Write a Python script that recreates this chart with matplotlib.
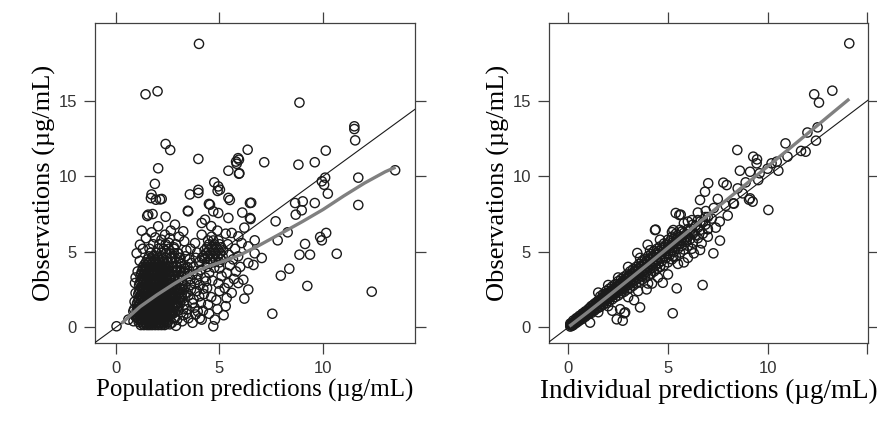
import numpy as np
import matplotlib
matplotlib.use("Agg")
import matplotlib.pyplot as plt

# ---- left panel: observations vs population predictions ----
# sparse points (pred, obs)
pop_sparse = [
    (4.01, 18.77), (1.43, 15.43), (2.01, 15.63), (2.40, 12.14), (2.62, 11.74), (3.98, 11.15),
    (6.36, 11.76), (5.94, 11.10), (5.83, 10.83), (5.43, 10.37), (5.94, 10.17), (2.04, 10.53),
    (1.88, 9.50), (4.75, 9.60), (8.86, 14.88), (11.51, 13.31), (11.51, 13.13), (11.55, 12.38),
    (10.13, 11.70), (7.16, 10.93), (8.81, 10.77), (9.60, 10.93), (13.48, 10.40), (10.10, 9.91),
    (11.70, 9.91), (9.94, 9.67), (10.05, 9.44), (10.23, 8.85), (8.65, 8.23), (9.02, 8.34),
    (9.60, 8.23), (11.70, 8.10), (8.68, 7.46), (8.97, 7.75), (7.71, 7.02), (8.29, 6.29),
    (7.81, 5.76), (10.15, 6.25), (9.86, 5.98), (9.94, 5.76), (9.13, 5.52), (8.86, 4.81),
    (9.37, 4.81), (10.66, 4.87), (7.04, 4.59), (8.37, 3.88), (7.96, 3.42), (9.24, 2.74),
    (12.35, 2.36), (7.55, 0.90), (6.70, 5.76), (6.70, 4.90), (6.53, 8.25), (6.50, 7.17),
    (5.80, 10.97), (5.90, 11.20), (5.96, 10.20), (1.72, 8.80), (1.93, 8.45), (2.13, 8.47),
    (3.57, 8.80), (3.98, 8.90), (3.98, 9.10), (4.91, 9.03), (5.50, 8.43), (3.47, 7.72),
    (4.49, 8.17), (1.51, 7.37), (1.77, 7.50), (2.40, 7.32), (6.64, 4.13), (1.69, 8.56),
    (2.21, 8.50), (4.54, 8.12), (5.02, 9.11), (4.94, 9.33), (5.43, 8.57), (1.56, 7.46),
    (3.49, 7.68), (4.70, 7.68), (4.94, 7.57), (4.14, 6.91), (4.30, 7.13), (5.43, 7.24),
    (6.47, 7.24), (6.47, 8.23), (6.20, 6.60), (6.10, 7.60),
]

# moderately filled region between and around the two clusters
pop_mid = [
    (3.20, 0.40), (3.40, 0.90), (3.30, 1.50), (3.50, 2.10), (3.35, 2.70), (3.60, 3.20), (3.30, 3.90),
    (3.55, 4.50), (3.40, 5.10), (3.30, 5.70), (3.70, 0.30), (3.85, 0.85), (3.80, 1.30), (3.75, 1.85),
    (3.90, 2.40), (3.80, 2.90), (3.95, 3.50), (3.75, 4.00), (3.85, 4.60), (3.82, 5.58), (4.05, 0.60),
    (4.14, 0.51), (4.20, 1.10), (4.10, 1.60), (4.25, 2.20), (4.05, 2.80), (4.30, 3.30), (4.10, 3.80),
    (4.00, 4.30), (4.14, 6.13), (4.50, 0.90), (4.45, 1.50), (4.60, 2.00), (4.40, 2.60), (4.65, 3.10),
    (4.50, 3.60), (4.75, 3.95), (4.70, 0.07), (4.78, 0.51), (4.90, 1.20), (4.85, 1.80), (5.00, 2.40),
    (4.95, 2.90), (5.10, 3.40), (5.00, 3.90), (4.90, 6.40), (5.20, 0.80), (5.35, 1.94), (5.30, 1.40),
    (5.25, 2.60), (5.43, 2.93), (5.35, 3.60), (5.50, 4.10), (5.45, 4.80), (5.40, 5.50), (5.30, 6.20),
    (5.59, 2.28), (5.70, 3.20), (5.80, 3.70), (5.65, 4.50), (5.75, 5.20), (5.59, 6.25), (5.91, 6.02),
    (5.91, 2.93), (6.15, 3.15), (6.00, 4.00), (5.90, 4.70), (6.07, 5.58), (6.39, 5.36), (6.39, 4.26),
    (6.39, 2.50), (6.20, 1.90), (3.05, 6.00), (2.85, 6.80), (3.25, 6.36), (2.37, 6.13), (1.72, 6.29),
    (2.04, 6.69), (1.16, 5.47), (2.60, 5.90), (1.45, 5.90), (2.90, 5.50), (0.03, 0.07), (0.60, 0.51),
    (0.84, 1.06), (0.92, 2.93), (0.95, 2.27), (0.85, 0.40), (2.85, 0.62), (2.60, 0.20), (3.00, 1.10),
    (2.90, 0.10), (3.10, 4.60), (3.15, 3.40), (3.60, 5.20), (4.60, 6.70), (3.45, 1.20), (3.62, 2.50),
    (3.48, 3.55), (3.65, 4.25), (3.95, 1.05), (4.02, 2.05), (4.22, 2.55), (4.35, 3.05), (3.92, 4.95),
    (2.75, 0.90), (2.90, 1.60), (3.05, 2.30), (3.20, 2.95), (3.30, 3.60), (3.15, 4.20), (3.00, 4.90),
    (2.80, 5.30), (3.45, 4.00), (3.60, 2.80), (3.70, 1.60), (3.50, 0.60), (2.95, 0.50), (3.10, 1.90),
    (3.25, 1.20), (2.70, 4.60), (2.55, 5.60), (2.20, 5.80), (1.90, 5.95), (1.30, 5.20), (1.15, 4.40),
    (1.05, 3.70), (0.95, 3.30), (0.90, 1.70), (0.88, 1.20), (0.95, 0.70), (3.40, 2.30), (3.55, 3.75),
    (3.90, 3.15), (4.15, 4.60), (4.40, 4.00), (2.95, 3.75), (3.10, 2.60), (2.85, 2.05), (3.00, 1.40),
    (3.35, 4.70), (3.70, 3.50), (3.25, 0.80), (2.70, 0.30), (1.00, 4.90), (1.25, 6.40), (2.65, 6.40),
]

# dense cluster at low predictions: obs level -> pred values
pop_dense_rows = {
    0.15: [1.20, 1.35, 1.50, 1.62, 1.75, 1.90, 2.05, 2.20, 2.35],
    0.25: [1.27, 1.42, 1.56, 1.68, 1.82, 1.97, 2.12, 2.28, 2.44],
    0.35: [1.10, 1.28, 1.42, 1.58, 1.70, 1.85, 2.00, 2.12, 2.30, 2.50],
    0.50: [1.12, 1.30, 1.45, 1.60, 1.73, 1.88, 2.03, 2.18, 2.34, 2.52],
    0.60: [1.05, 1.20, 1.38, 1.52, 1.66, 1.80, 1.95, 2.10, 2.25, 2.42, 2.60],
    0.72: [1.08, 1.25, 1.42, 1.56, 1.70, 1.85, 2.00, 2.15, 2.30, 2.48],
    0.85: [1.00, 1.15, 1.30, 1.45, 1.60, 1.72, 1.88, 2.02, 2.18, 2.35, 2.55],
    0.98: [1.05, 1.22, 1.37, 1.52, 1.66, 1.80, 1.95, 2.10, 2.26, 2.42, 2.62],
    1.10: [1.00, 1.12, 1.27, 1.40, 1.55, 1.70, 1.84, 1.98, 2.15, 2.30, 2.48, 2.70],
    1.22: [1.07, 1.20, 1.34, 1.48, 1.62, 1.77, 1.91, 2.06, 2.22, 2.38, 2.58],
    1.35: [1.05, 1.20, 1.35, 1.50, 1.64, 1.78, 1.92, 2.08, 2.22, 2.40, 2.62, 2.85],
    1.48: [1.10, 1.26, 1.42, 1.57, 1.71, 1.85, 2.00, 2.14, 2.30, 2.50, 2.72],
    1.60: [1.02, 1.15, 1.30, 1.46, 1.60, 1.75, 1.90, 2.05, 2.20, 2.38, 2.58, 2.80],
    1.75: [1.08, 1.22, 1.37, 1.52, 1.68, 1.82, 1.97, 2.12, 2.28, 2.45, 2.65],
    1.90: [1.10, 1.25, 1.40, 1.55, 1.70, 1.86, 2.00, 2.16, 2.32, 2.50, 2.70, 2.92],
    2.05: [1.16, 1.30, 1.46, 1.62, 1.77, 1.92, 2.08, 2.24, 2.40, 2.58, 2.78],
    2.20: [1.08, 1.22, 1.38, 1.52, 1.68, 1.82, 1.98, 2.14, 2.30, 2.48, 2.66, 2.86],
    2.35: [1.12, 1.28, 1.44, 1.58, 1.72, 1.88, 2.04, 2.20, 2.36, 2.54, 2.72],
    2.50: [1.15, 1.30, 1.45, 1.60, 1.76, 1.92, 2.08, 2.24, 2.42, 2.60, 2.80],
    2.65: [1.20, 1.36, 1.52, 1.68, 1.84, 2.00, 2.16, 2.32, 2.50, 2.70],
    2.80: [1.12, 1.28, 1.42, 1.58, 1.74, 1.90, 2.05, 2.22, 2.40, 2.58, 2.78],
    2.95: [1.16, 1.32, 1.48, 1.64, 1.80, 1.96, 2.12, 2.28, 2.46, 2.66],
    3.10: [1.20, 1.35, 1.50, 1.66, 1.82, 1.98, 2.14, 2.30, 2.48, 2.68],
    3.25: [1.25, 1.42, 1.58, 1.74, 1.90, 2.06, 2.22, 2.40, 2.58],
    3.40: [1.18, 1.32, 1.48, 1.62, 1.78, 1.95, 2.10, 2.28, 2.45, 2.65],
    3.55: [1.22, 1.38, 1.54, 1.70, 1.86, 2.02, 2.18, 2.36, 2.54],
    3.70: [1.25, 1.40, 1.56, 1.72, 1.88, 2.04, 2.20, 2.38, 2.56],
    3.85: [1.32, 1.48, 1.64, 1.80, 1.96, 2.12, 2.30, 2.48],
    4.00: [1.30, 1.45, 1.60, 1.76, 1.92, 2.08, 2.25, 2.42],
    4.15: [1.38, 1.54, 1.70, 1.86, 2.02, 2.20, 2.38],
    4.30: [1.45, 1.62, 1.78, 1.95, 2.12, 2.30],
    4.50: [1.52, 1.70, 1.88, 2.06, 2.25],
    4.70: [1.60, 1.80, 2.00, 2.20],
    4.95: [1.70, 1.95, 2.20],
    5.20: [1.62, 2.05],
}
# right-hand flank of the same cluster (where it reaches pred ~3.3)
pop_dense_flank = {
    1.00: [2.72, 2.85], 1.30: [2.78, 2.95], 1.60: [2.95, 3.10], 1.90: [3.05, 3.22],
    2.20: [3.00, 3.18, 3.32], 2.50: [2.95, 3.12, 3.28], 2.80: [2.92, 3.08, 3.25],
    3.10: [2.85, 3.02, 3.20], 3.40: [2.82, 3.00, 3.18], 3.70: [2.72, 2.90, 3.10, 3.28],
    4.00: [2.60, 2.78, 2.95, 3.15], 4.30: [2.50, 2.70, 2.90, 3.10], 4.60: [2.45, 2.65, 2.85, 3.05],
    4.90: [2.40, 2.60, 2.80, 3.00], 5.20: [2.30, 2.55, 2.80], 5.50: [1.80, 2.10, 2.40],
}
# second cluster around pred ~4.7
pop_dense2_rows = {
    4.30: [4.40, 4.70, 5.00],
    4.50: [4.30, 4.55, 4.80, 5.05],
    4.70: [4.22, 4.45, 4.68, 4.90, 5.15],
    4.90: [4.35, 4.58, 4.80, 5.02],
    5.10: [4.28, 4.50, 4.72, 4.95, 5.18],
    5.30: [4.40, 4.62, 4.85, 5.08],
    5.50: [4.50, 4.75, 5.00],
    5.75: [4.45, 4.70, 4.95],
    6.00: [4.62],
}

# loess smooth
pop_loess_x = [0.27, 1.16, 1.97, 2.77, 3.57, 4.38, 5.18, 6.00, 6.80, 8.08, 9.00, 10.0, 11.0, 12.0, 13.0, 13.5]
pop_loess_y = [0.26, 1.36, 2.14, 2.85, 3.50, 4.00, 4.37, 4.80, 5.34, 6.30, 7.00, 7.80, 8.70, 9.55, 10.3, 10.6]

# ---- right panel: observations vs individual predictions ----
ind_sparse = [
    (3.46, 4.92), (3.98, 5.47), (4.38, 6.47), (5.39, 7.57), (5.64, 7.46), (5.57, 7.44), (5.27, 6.44),
    (4.35, 6.44), (6.61, 8.43), (6.86, 8.98), (7.02, 9.54), (7.78, 9.58), (7.95, 9.42), (8.48, 11.74),
    (8.61, 10.37), (9.28, 11.30), (9.47, 11.12), (9.45, 10.86), (9.12, 10.30), (9.53, 9.75), (10.20, 10.86),
    (10.46, 10.97), (10.54, 10.37), (10.90, 12.18), (11.68, 11.68), (11.91, 11.63), (12.34, 15.43),
    (13.25, 15.67), (12.58, 14.88), (12.51, 13.24), (12.43, 12.36), (14.10, 18.80), (10.04, 7.77),
    (8.75, 8.87), (9.12, 8.54), (9.25, 8.32), (8.28, 8.21), (7.90, 8.05), (8.31, 8.19), (9.07, 8.45),
    (7.61, 5.74), (7.28, 4.90), (6.69, 5.56), (6.61, 5.12), (6.74, 2.80), (5.44, 2.58), (5.24, 0.93),
    (4.74, 2.95), (3.93, 2.51), (3.60, 1.32), (2.81, 0.93), (2.43, 0.53), (2.73, 0.44), (1.09, 0.31),
    (2.85, 0.99), (2.60, 1.20), (3.30, 1.80), (4.20, 2.90), (5.00, 3.50), (5.80, 4.30), (6.30, 4.90),
    (7.00, 6.00), (7.40, 6.60), (7.60, 7.00), (8.00, 7.40), (8.50, 9.20), (8.90, 9.60), (9.60, 10.20),
    (10.00, 10.50), (11.00, 11.30), (12.00, 12.90), (7.30, 7.90), (7.50, 8.50), (7.20, 7.20), (6.90, 7.70),
    (6.50, 7.60), (6.20, 7.10), (6.00, 7.00), (5.80, 6.90), (5.20, 6.30), (4.60, 5.80), (4.10, 5.10),
    (3.60, 4.60), (3.00, 4.00), (2.50, 3.30), (2.00, 2.80), (1.50, 2.30), (1.50, 1.00), (2.00, 1.40),
    (2.20, 1.10), (3.00, 2.00), (3.50, 2.40), (4.00, 2.90), (4.50, 3.30), (5.50, 4.20), (6.00, 4.60),
    (6.20, 5.20), (7.00, 6.50), (6.27, 6.22), (5.94, 5.78), (5.27, 4.68), (4.60, 4.01),
]
# dense band: pred level -> obs values
ind_dense_rows = {
    0.10: [0.05, 0.15, 0.25], 0.18: [0.10, 0.20, 0.30], 0.25: [0.15, 0.30, 0.45], 0.33: [0.25, 0.38],
    0.40: [0.30, 0.45, 0.60], 0.48: [0.38, 0.52, 0.62], 0.55: [0.45, 0.60, 0.75], 0.63: [0.55, 0.68],
    0.70: [0.55, 0.75, 0.90], 0.78: [0.68, 0.84, 0.95], 0.85: [0.70, 0.90, 1.05], 0.93: [0.85, 1.00],
    1.00: [0.85, 1.05, 1.20], 1.08: [0.98, 1.12, 1.28], 1.15: [0.95, 1.20, 1.40], 1.23: [1.15, 1.30, 1.45],
    1.30: [1.10, 1.35, 1.55], 1.38: [1.28, 1.45, 1.62], 1.45: [1.25, 1.50, 1.70], 1.53: [1.42, 1.60, 1.78],
    1.60: [1.35, 1.65, 1.85, 2.05], 1.68: [1.55, 1.75, 1.95], 1.75: [1.50, 1.80, 2.00, 2.20],
    1.83: [1.72, 1.92, 2.10], 1.90: [1.60, 1.90, 2.15, 2.40], 1.98: [1.85, 2.08, 2.28],
    2.05: [1.75, 2.05, 2.30, 2.55], 2.13: [2.00, 2.22, 2.42], 2.20: [1.85, 2.20, 2.45, 2.70],
    2.28: [2.15, 2.38, 2.58], 2.35: [2.00, 2.35, 2.60, 2.85], 2.43: [2.30, 2.52, 2.72],
    2.50: [2.10, 2.50, 2.75, 3.05], 2.58: [2.42, 2.68, 2.90], 2.65: [2.25, 2.60, 2.90, 3.20],
    2.73: [2.55, 2.82, 3.08], 2.80: [2.35, 2.75, 3.05, 3.35], 2.88: [2.70, 2.98, 3.25],
    2.95: [2.50, 2.90, 3.20, 3.50], 3.03: [2.82, 3.12, 3.40], 3.10: [2.60, 3.05, 3.40, 3.70],
    3.18: [2.98, 3.30, 3.58], 3.25: [2.75, 3.20, 3.55, 3.85], 3.33: [3.12, 3.45, 3.72],
    3.40: [2.90, 3.35, 3.70, 4.00], 3.48: [3.25, 3.58, 3.90], 3.55: [3.00, 3.50, 3.85, 4.20],
    3.63: [3.40, 3.75, 4.05], 3.70: [3.15, 3.65, 4.00, 4.35], 3.78: [3.52, 3.90, 4.22],
    3.85: [3.30, 3.80, 4.15, 4.50], 3.93: [3.68, 4.05, 4.40], 4.00: [3.40, 3.95, 4.30, 4.70],
    4.08: [3.82, 4.20, 4.55], 4.15: [3.55, 4.10, 4.50, 4.85], 4.23: [3.95, 4.38, 4.72],
    4.30: [3.70, 4.25, 4.65, 5.05], 4.38: [4.10, 4.52, 4.90], 4.45: [3.85, 4.40, 4.80, 5.20],
    4.53: [4.25, 4.68, 5.05], 4.60: [4.00, 4.55, 4.95, 5.35], 4.70: [4.40, 4.85, 5.25],
    4.80: [4.10, 4.70, 5.15, 5.55], 4.90: [4.60, 5.05, 5.45], 5.00: [4.30, 4.90, 5.35, 5.80],
    5.10: [4.80, 5.25, 5.70], 5.20: [4.50, 5.10, 5.60, 6.00], 5.30: [5.00, 5.50, 5.90],
    5.40: [4.70, 5.35, 5.80, 6.20], 5.50: [5.20, 5.70, 6.10], 5.60: [4.95, 5.55, 6.00, 6.45],
    5.70: [5.40, 5.90, 6.35], 5.80: [5.15, 5.80, 6.25], 5.90: [5.65, 6.15], 6.00: [5.40, 6.00, 6.50],
    6.12: [5.85, 6.40], 6.25: [5.60, 6.30, 6.80], 6.38: [6.10, 6.70], 6.50: [5.90, 6.60, 7.10],
    6.62: [6.45, 7.00], 6.75: [6.20, 6.95], 6.88: [6.80, 7.30], 7.00: [6.50, 7.30],
}
ind_loess_x = [0.05, 1.0, 2.0, 3.0, 4.0, 5.0, 6.0, 7.0, 8.0, 9.0, 10.0, 11.0, 12.0, 13.0, 14.1]
ind_loess_y = [0.07, 1.03, 2.07, 3.12, 4.18, 5.26, 6.34, 7.42, 8.50, 9.57, 10.65, 11.73, 12.82, 13.92, 15.12]


def unpack(sparse, *row_sets, rows_are_y=True):
    xs = [p[0] for p in sparse]
    ys = [p[1] for p in sparse]
    for rows in row_sets:
        for key, vals in rows.items():
            for v in vals:
                if rows_are_y:
                    xs.append(v)
                    ys.append(key)
                else:
                    xs.append(key)
                    ys.append(v)
    return np.array(xs), np.array(ys)


pop_x, pop_y = unpack(pop_sparse + pop_mid, pop_dense_rows, pop_dense_flank, pop_dense2_rows)
ind_x, ind_y = unpack(ind_sparse, ind_dense_rows, rows_are_y=False)

axis_col = "#404040"
serif = ["Liberation Serif", "DejaVu Serif"]
tickfont = ["Liberation Sans Narrow", "Liberation Sans", "DejaVu Sans"]

fig = plt.figure(figsize=(8.78, 4.24), dpi=100)
ax1 = fig.add_axes([0.1082, 0.191, 0.3645, 0.7547])
ax2 = fig.add_axes([0.6253, 0.191, 0.3633, 0.7547])

panels = [
    (ax1, pop_x, pop_y, pop_loess_x, pop_loess_y, (-1.01, 14.44), [0, 5, 10],
     "Population predictions (\u00b5g/mL)", 18),
    (ax2, ind_x, ind_y, ind_loess_x, ind_loess_y, (-0.97, 15.04), [0, 5, 10, 15],
     "Individual predictions (\u00b5g/mL)", 19.5),
]

for ax, x, y, lx, ly, xlim, xt, xlab, xfs in panels:
    ax.scatter(x, y, s=44, facecolors="none", edgecolors="#1a1a1a", linewidths=1.0, zorder=2)
    ax.axline((0, 0), slope=1, color="#1a1a1a", lw=0.8, zorder=3)
    ax.plot(lx, ly, color="#808080", lw=2.4, solid_capstyle="butt", zorder=4)
    ax.set_xlim(*xlim)
    ax.set_ylim(-1.04, 20.15)
    ax.set_xticks(xt)
    ax.set_xticklabels([str(t) if t < 15 else "" for t in xt])
    ax.set_yticks([0, 5, 10, 15])
    ax.tick_params(direction="out", length=8, width=0.9, color=axis_col, top=True, right=True,
                   labelsize=12, labelcolor="#333333", pad=5)
    for lab in ax.get_xticklabels() + ax.get_yticklabels():
        lab.set_family(tickfont)
    for sp in ax.spines.values():
        sp.set_color(axis_col)
        sp.set_linewidth(0.9)
    ax.set_xlabel(xlab, family=serif, fontsize=xfs, labelpad=2)
    ax.set_ylabel("Observations (\u00b5g/mL)", family=serif, fontsize=19, labelpad=2)

fig.savefig("out.png", dpi=100)
